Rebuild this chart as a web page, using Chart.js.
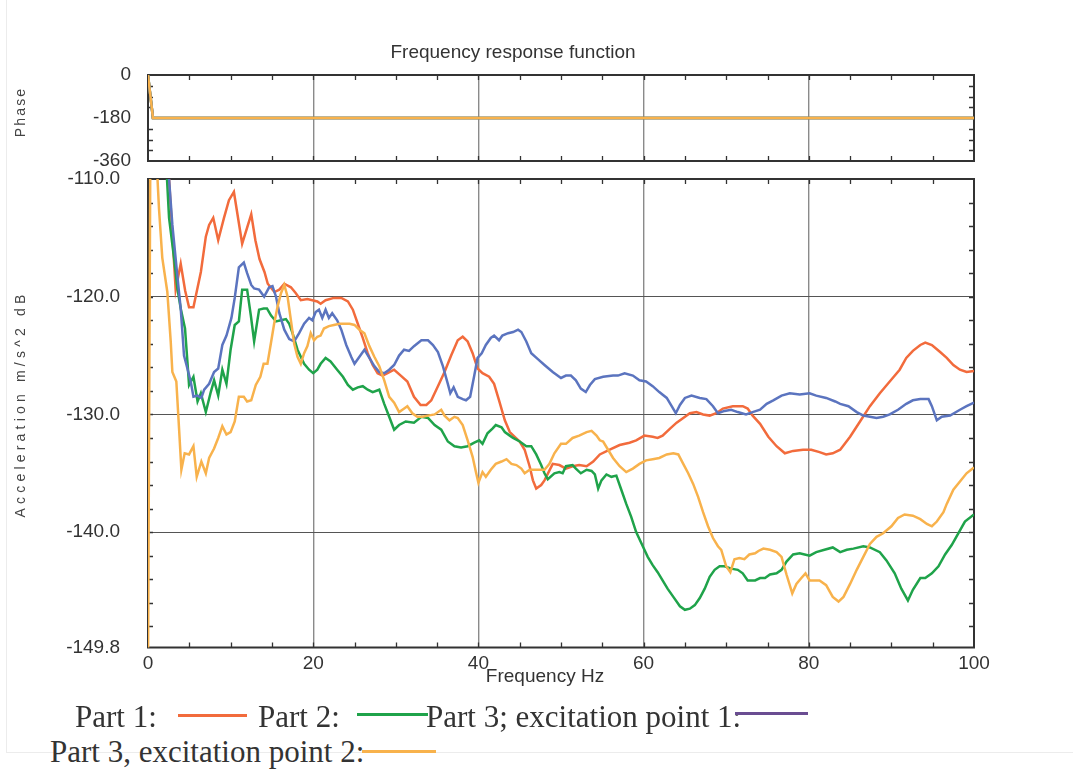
<!DOCTYPE html>
<html>
<head>
<meta charset="utf-8">
<script src="https://cdn.jsdelivr.net/npm/chart.js@4.4.1/dist/chart.umd.min.js"></script>
<style>
  html, body { margin: 0; padding: 0; background: #fff; }
  #wrap { position: relative; width: 1073px; height: 769px; overflow: hidden;
          font-family: "Liberation Sans", Arial, sans-serif; color: #333; }
  #frame { position: absolute; left: 6px; top: -1px; width: 1067px; height: 753px;
           border-left: 1px solid #ececec; border-bottom: 1px solid #ececec; }
  canvas { position: absolute; left: 0; }
  #phase { top: 0; }
  #mag { top: 170px; }
  .title { position: absolute; font-size: 19px; line-height: 19px; white-space: nowrap;
           transform: translateX(-50%); color: #333; }
  .ylab { position: absolute; font-size: 14px; line-height: 14px; white-space: nowrap;
          transform: translate(-50%, -50%) rotate(-90deg); color: #444; }
  .leg { position: absolute; font-family: "Liberation Serif", "Times New Roman", serif;
         font-size: 31px; line-height: 31px; white-space: nowrap; color: #333; }
  .sw { position: absolute; height: 3px; }
</style>
</head>
<body>
<div id="wrap">
  <div id="frame"></div>
  <canvas id="phase" width="1073" height="175"></canvas>
  <canvas id="mag" width="1073" height="530"></canvas>
  <div class="title" style="left:513px; top:42px;">Frequency response function</div>
  <div class="title" style="left:545px; top:666px;">Frequency Hz</div>
  <div class="ylab" style="left:20px; top:112px; letter-spacing:2.2px;">Phase</div>
  <div class="ylab" style="left:20px; top:404px; letter-spacing:4.2px;">Acceleration m/s^2 dB</div>
  <div id="legend"></div>
</div>
<script>
// frequency (Hz), level (dB)
const part1 = [
  [1.5,-100],[2.55,-110],[3.35,-119.4],[3.96,-117.2],[4.5,-119.5],[4.97,-120.9],[5.5,-120.9],
  [6.4,-117.9],[7.0,-114.9],[7.4,-113.9],[7.9,-113.3],[8.5,-115.2],[9.2,-113.3],[9.8,-111.8],
  [10.4,-111.1],[11.4,-115.5],[12.5,-113.0],[13.0,-115.2],[13.5,-116.8],[14.1,-117.9],[14.5,-118.9],
  [15.3,-119.6],[15.9,-119.4],[16.5,-118.9],[17.3,-119.2],[17.9,-119.7],[18.5,-120.3],[19.3,-120.2],
  [19.9,-120.3],[20.5,-120.4],[20.9,-120.6],[21.5,-120.3],[22.5,-120.1],[23.4,-120.1],[24.2,-120.4],
  [24.8,-121.1],[25.4,-122.3],[26.0,-123.5],[26.6,-124.8],[27.2,-125.8],[27.8,-126.5],[28.4,-126.7],
  [29.0,-126.5],[29.8,-126.2],[30.6,-126.7],[31.4,-127.2],[32.2,-128.5],[33.0,-129.2],[33.7,-129.2],
  [34.3,-128.8],[35.1,-127.6],[35.9,-126.4],[36.7,-125.0],[37.5,-123.7],[38.1,-123.4],[38.7,-123.8],
  [39.3,-124.8],[39.9,-126.1],[40.5,-126.5],[41.3,-126.8],[41.9,-127.4],[42.5,-128.8],[43.2,-130.5],
  [43.8,-131.5],[44.4,-131.9],[45.0,-132.3],[45.6,-133.0],[46.2,-134.4],[46.6,-135.6],[47.0,-136.3],
  [47.6,-136.0],[48.0,-135.6],[49.0,-134.2],[49.8,-134.3],[50.6,-134.6],[51.4,-134.4],[52.2,-134.3],
  [53.1,-134.4],[53.9,-134.0],[54.7,-133.4],[55.9,-133.0],[57.1,-132.6],[58.3,-132.4],[59.1,-132.2],
  [60.1,-131.8],[61.1,-131.9],[61.7,-132.0],[62.3,-131.8],[63.2,-131.2],[64.0,-130.7],[64.8,-130.3],
  [65.6,-129.9],[66.4,-129.8],[67.2,-130.0],[68.0,-130.1],[68.8,-129.9],[69.6,-129.5],[70.8,-129.3],
  [72.0,-129.3],[72.6,-129.5],[73.2,-130.1],[74.1,-130.8],[75.1,-131.9],[76.1,-132.7],[77.1,-133.3],
  [78.1,-133.1],[79.3,-133.0],[80.3,-133.0],[81.3,-133.2],[82.1,-133.4],[82.9,-133.3],[83.8,-133.0],
  [85.0,-131.9],[86.2,-130.6],[87.4,-129.3],[88.6,-128.2],[89.8,-127.2],[91.0,-126.2],[91.8,-125.2],
  [92.6,-124.6],[93.5,-124.1],[94.1,-123.9],[94.9,-124.1],[95.9,-124.7],[96.7,-125.2],[97.5,-125.8],
  [98.3,-126.2],[99.1,-126.4],[100,-126.3]
];

const part2 = [
  [1.5,-100],[2.3,-110],[2.55,-113.3],[3.15,-116.7],[3.56,-119.3],[3.96,-121.0],[4.48,-122.7],
  [4.77,-125.5],[4.97,-127.5],[5.5,-126.8],[6.0,-128.9],[6.4,-128.2],[7.0,-129.8],[7.6,-128.1],
  [8.0,-127.1],[8.5,-128.4],[9.0,-126.2],[9.5,-127.4],[10.0,-124.5],[10.5,-122.4],[11.0,-122.1],
  [11.4,-119.4],[12.0,-119.4],[12.45,-121.6],[12.85,-123.8],[13.45,-121.1],[14.0,-121.0],[14.4,-121.0],
  [14.9,-121.6],[15.5,-122.1],[16.1,-122.0],[16.7,-121.9],[17.1,-122.3],[17.5,-123.1],[18.1,-124.5],
  [18.9,-125.7],[19.5,-126.2],[20.0,-126.5],[20.5,-126.2],[20.9,-125.7],[21.5,-125.2],[22.1,-125.5],
  [22.9,-126.2],[23.6,-126.8],[24.2,-127.5],[24.8,-127.9],[25.4,-127.7],[26.0,-127.6],[26.6,-127.9],
  [27.2,-128.1],[28.0,-127.9],[28.6,-129.1],[29.2,-130.2],[29.8,-131.3],[30.4,-130.9],[31.2,-130.6],
  [32.2,-130.7],[33.1,-130.2],[33.9,-130.3],[34.7,-130.9],[35.5,-131.3],[36.3,-132.3],[37.1,-132.7],
  [37.9,-132.8],[38.7,-132.7],[39.5,-132.4],[40.1,-132.2],[40.5,-132.5],[41.1,-131.6],[41.7,-131.2],
  [42.1,-130.9],[42.8,-131.1],[43.2,-131.5],[43.8,-131.8],[44.2,-132.0],[45.0,-132.3],[45.8,-132.7],
  [46.4,-132.7],[47.0,-133.4],[47.6,-134.3],[48.0,-135.0],[48.4,-135.5],[49.2,-135.0],[49.8,-134.9],
  [50.2,-135.0],[50.6,-134.4],[51.4,-134.3],[51.8,-134.6],[52.4,-135.0],[53.1,-134.7],[53.7,-134.8],
  [54.1,-135.1],[54.5,-136.3],[54.9,-135.6],[55.5,-135.1],[56.1,-135.3],[56.7,-135.2],[57.3,-136.4],
  [57.9,-137.6],[58.5,-138.7],[59.1,-140.0],[59.9,-141.2],[60.5,-142.1],[61.1,-142.8],[61.7,-143.4],
  [62.3,-144.1],[62.9,-144.8],[63.6,-145.5],[64.4,-146.3],[65.0,-146.6],[65.6,-146.5],[66.2,-146.2],
  [66.8,-145.6],[67.4,-144.8],[68.0,-143.8],[68.6,-143.2],[69.2,-142.9],[69.8,-142.9],[70.6,-143.1],
  [71.4,-143.2],[72.0,-143.5],[72.6,-144.1],[73.5,-144.1],[74.1,-143.9],[74.7,-143.9],[75.3,-143.6],
  [76.1,-143.5],[76.7,-143.2],[77.3,-142.5],[78.1,-141.9],[78.9,-141.8],[79.5,-141.9],[80.1,-142.0],
  [80.9,-141.7],[81.9,-141.5],[82.9,-141.3],[83.8,-141.7],[84.6,-141.5],[85.4,-141.4],[86.6,-141.2],
  [87.4,-141.3],[88.6,-141.7],[89.4,-142.4],[90.4,-143.5],[91.2,-144.8],[92.0,-145.8],[92.6,-144.9],
  [93.5,-143.9],[94.1,-143.9],[94.9,-143.5],[95.7,-142.9],[96.5,-141.9],[97.3,-141.1],[98.1,-140.1],
  [98.9,-139.1],[100,-138.5]
];

const part3a = [
  [1.5,-100],[2.55,-110],[2.95,-113.9],[3.55,-118.2],[3.96,-121.0],[4.36,-125.0],[4.77,-126.1],
  [5.17,-127.2],[5.5,-128.5],[6.0,-128.4],[6.46,-128.6],[6.8,-127.9],[7.4,-127.4],[8.0,-126.4],
  [8.5,-126.1],[9.0,-124.1],[9.5,-123.3],[10.1,-121.8],[10.5,-120.1],[11.0,-117.5],[11.6,-117.1],
  [12.0,-118.0],[12.5,-119.0],[12.85,-119.3],[13.45,-119.4],[14.06,-120.0],[14.67,-119.2],[15.07,-119.1],
  [15.5,-120.0],[15.9,-121.4],[16.5,-122.8],[17.1,-123.6],[17.7,-123.8],[18.3,-123.1],[18.9,-122.3],
  [19.5,-121.8],[19.9,-122.0],[20.3,-121.3],[20.7,-121.1],[21.1,-121.8],[21.5,-121.1],[21.9,-121.8],
  [22.3,-121.4],[22.9,-122.0],[23.4,-122.8],[24.0,-124.1],[24.6,-125.1],[25.0,-125.7],[25.6,-125.1],
  [26.2,-124.5],[26.8,-125.2],[27.4,-125.9],[28.0,-126.4],[28.6,-126.5],[29.2,-126.2],[29.8,-125.8],
  [30.4,-125.0],[31.0,-124.5],[31.6,-124.6],[32.2,-124.2],[33.1,-123.7],[33.9,-123.7],[34.5,-124.1],
  [35.1,-124.7],[35.7,-125.9],[36.3,-127.4],[36.6,-128.2],[37.0,-127.7],[37.5,-128.5],[38.1,-128.7],
  [38.5,-128.8],[39.0,-128.5],[39.5,-126.7],[39.9,-125.2],[40.4,-124.8],[40.9,-124.1],[41.5,-123.5],
  [41.9,-123.3],[42.5,-123.7],[42.9,-123.3],[43.6,-123.1],[44.2,-123.0],[44.8,-122.8],[45.2,-123.0],
  [45.8,-123.8],[46.4,-124.8],[47.2,-125.3],[48.0,-125.8],[49.0,-126.4],[50.0,-126.9],[50.6,-126.7],
  [51.2,-126.7],[51.8,-127.1],[52.4,-127.8],[53.0,-128.1],[53.5,-127.5],[54.1,-127.0],[55.1,-126.8],
  [56.3,-126.7],[56.9,-126.7],[57.7,-126.5],[58.7,-126.7],[59.5,-127.1],[60.3,-127.2],[61.1,-127.6],
  [61.9,-128.1],[62.8,-128.6],[63.4,-129.3],[63.9,-129.9],[64.4,-129.2],[65.0,-128.6],[65.8,-128.4],
  [66.8,-128.6],[67.6,-128.7],[68.4,-129.3],[69.0,-129.9],[69.8,-129.7],[70.6,-129.6],[71.4,-129.8],
  [72.4,-130.0],[73.2,-129.8],[74.1,-129.6],[74.9,-129.1],[75.7,-128.8],[76.7,-128.4],[77.7,-128.2],
  [78.9,-128.3],[80.1,-128.2],[80.9,-128.4],[82.1,-128.6],[83.2,-128.9],[83.8,-129.1],[84.8,-129.3],
  [85.8,-129.8],[86.6,-130.1],[87.4,-130.2],[88.2,-130.3],[89.0,-130.2],[89.8,-130.0],[90.8,-129.6],
  [91.8,-129.1],[92.6,-128.8],[93.5,-128.7],[94.5,-128.7],[94.9,-129.3],[95.5,-130.5],[96.1,-130.2],
  [97.1,-130.1],[98.3,-129.6],[99.1,-129.3],[100,-129.0]
];

const part3b = [
  [0,-152],[0.3,-105],[0.7,-100],[1.13,-109.7],[1.33,-112.5],[1.73,-116.7],[2.34,-119.6],[2.75,-123.8],
  [2.95,-126.4],[3.43,-127.2],[3.76,-131.2],[4.04,-134.7],[4.44,-133.3],[4.97,-133.4],[5.5,-132.7],
  [5.9,-135.3],[6.46,-134.0],[7.0,-135.0],[7.4,-133.7],[8.0,-132.9],[8.5,-132.0],[9.0,-131.0],
  [9.5,-131.7],[10.0,-131.5],[10.5,-130.6],[11.0,-128.5],[11.6,-128.5],[12.0,-128.9],[12.5,-128.8],
  [13.05,-127.5],[13.6,-126.8],[14.0,-125.7],[14.46,-125.7],[14.87,-124.0],[15.27,-122.3],[15.7,-120.8],
  [16.1,-119.7],[16.5,-119.0],[16.9,-120.0],[17.3,-122.0],[17.7,-124.0],[18.1,-125.1],[18.5,-125.7],
  [18.9,-124.8],[19.3,-124.2],[19.7,-123.1],[20.1,-123.7],[20.5,-123.4],[20.9,-123.3],[21.3,-122.7],
  [21.9,-122.5],[22.5,-122.4],[23.2,-122.3],[23.8,-122.3],[24.4,-122.3],[25.0,-122.4],[25.6,-122.8],
  [26.2,-123.1],[26.8,-124.2],[27.4,-125.1],[28.0,-125.9],[28.6,-127.1],[29.2,-128.5],[29.8,-129.0],
  [30.4,-129.8],[30.8,-129.6],[31.4,-129.3],[32.0,-129.9],[32.6,-130.2],[33.2,-130.2],[33.9,-130.1],
  [34.7,-130.0],[35.5,-129.6],[35.9,-130.1],[36.5,-130.5],[37.1,-130.2],[37.5,-130.3],[38.1,-130.9],
  [38.7,-132.2],[39.3,-133.6],[39.7,-134.9],[40.0,-135.8],[40.5,-134.9],[40.9,-135.3],[41.5,-134.7],
  [42.1,-134.2],[42.8,-134.0],[43.4,-133.8],[44.0,-134.2],[44.6,-134.3],[45.2,-134.6],[45.6,-135.0],
  [46.2,-134.7],[47.0,-134.7],[48.0,-134.7],[48.6,-134.2],[49.2,-133.3],[50.0,-132.5],[50.6,-132.5],
  [51.4,-132.0],[52.2,-131.8],[53.1,-131.5],[53.7,-131.4],[54.3,-131.8],[54.7,-132.2],[55.1,-132.3],
  [55.7,-133.0],[56.3,-133.7],[57.1,-134.4],[57.9,-134.9],[58.7,-134.6],[59.5,-134.2],[60.3,-133.9],
  [61.1,-133.8],[61.9,-133.7],[62.8,-133.4],[63.6,-133.3],[64.2,-133.4],[64.8,-134.2],[65.4,-135.0],
  [66.0,-135.9],[66.6,-137.0],[67.2,-138.3],[67.8,-139.5],[68.4,-140.5],[69.0,-141.2],[69.4,-141.5],
  [70.0,-142.9],[70.5,-143.4],[71.0,-142.3],[71.6,-142.2],[72.2,-142.3],[72.8,-141.9],[73.5,-141.8],
  [73.9,-141.6],[74.5,-141.4],[75.3,-141.5],[76.1,-141.7],[76.7,-142.1],[77.3,-143.6],[78.0,-145.2],
  [78.5,-144.4],[79.1,-143.9],[79.6,-143.5],[80.1,-144.1],[80.7,-144.1],[81.3,-144.1],[82.1,-144.5],
  [82.9,-145.5],[83.6,-145.9],[84.2,-145.5],[85.0,-144.4],[85.8,-143.2],[86.6,-142.1],[87.4,-141.0],
  [88.2,-140.4],[89.0,-140.1],[90.0,-139.5],[90.8,-138.8],[91.6,-138.5],[92.6,-138.6],[93.5,-138.9],
  [94.3,-139.3],[94.9,-139.5],[95.5,-139.1],[96.3,-138.3],[96.7,-137.6],[97.5,-136.4],[98.3,-135.7],
  [99.1,-135.0],[100,-134.5]
];

// phase is the same for every measurement: 0 deg at DC, -180 deg above
const phaseFreq = [0, 0.6, 100];
const phaseDeg = [0, -180, -180];

const seriesLabels = ["Part 1:", "Part 2:", "Part 3; excitation point 1:", "Part 3, excitation point 2:"];
const seriesColors = ["#f26b3c", "#1fa34a", "#5b74bf", "#f8b24c"];
const legendColors = ["#f26b3c", "#1fa34a", "#6a4d92", "#f8b24c"];
const magSeries = [part1, part2, part3a, part3b];

const freqTicks = [0, 20, 40, 60, 80, 100];
const magTicks = [-149.8, -140, -130, -120, -110];
const phaseTicks = [-360, -180, 0];

const fontTicks = { family: '"Liberation Sans", Arial, sans-serif', size: 19 };

// inward tick marks on all four edges plus the plot frame
const frameTicks = {
  id: 'frameTicks',
  beforeDatasetsDraw(chart, args, opts) {
    const { ctx, chartArea: a, scales: { x, y } } = chart;
    ctx.save();
    ctx.strokeStyle = '#333';
    ctx.lineWidth = 1.3;
    ctx.beginPath();
    opts.x.forEach(v => {
      const px = Math.round(x.getPixelForValue(v)) + 0.5;
      ctx.moveTo(px, a.top); ctx.lineTo(px, a.top + 5);
      ctx.moveTo(px, a.bottom); ctx.lineTo(px, a.bottom - 5);
    });
    opts.y.forEach(v => {
      const py = Math.round(y.getPixelForValue(v)) + 0.5;
      ctx.moveTo(a.left, py); ctx.lineTo(a.left + 5, py);
      ctx.moveTo(a.right, py); ctx.lineTo(a.right - 5, py);
    });
    ctx.stroke();
    ctx.lineWidth = 2;
    ctx.strokeRect(a.left, a.top, a.width, a.height);
    ctx.restore();
  }
};

const minorFreq = [];
for (let f = 5; f < 100; f += 5) minorFreq.push(f);
const minorMag = [];
for (let d = -148; d <= -112; d += 2) minorMag.push(d);
const minorPhase = [-315, -270, -225, -135, -90, -45];

function xScale(showLabels) {
  return {
    type: 'linear', min: 0, max: 100,
    afterBuildTicks: s => { s.ticks = freqTicks.map(v => ({ value: v })); },
    afterFit: s => {
      s.height = showLabels ? 52.5 : 0;
      s.paddingLeft = 0; s.paddingRight = 0;
    },
    border: { display: false },
    grid: {
      drawTicks: false,
      color: c => (c.tick && c.tick.value > 0 && c.tick.value < 100) ? '#8a8a8a' : 'rgba(0,0,0,0)',
      lineWidth: 1.4
    },
    ticks: { display: showLabels, autoSkip: false, maxRotation: 0, padding: 5, color: '#333', font: fontTicks }
  };
}

function yFit(s) {
  s.width = 148;
  s.paddingTop = 0; s.paddingBottom = 0;
}

function datasets(seriesList, order) {
  return seriesList.map((pts, i) => ({
    label: seriesLabels[i],
    data: pts.map(p => ({ x: p[0], y: p[1] })),
    borderColor: seriesColors[i],
    borderWidth: 2.5,
    pointRadius: 0,
    tension: 0,
    fill: false,
    order: order[i]
  }));
}

const phasePts = phaseFreq.map((f, i) => [f, phaseDeg[i]]);

new Chart(document.getElementById('phase'), {
  type: 'line',
  data: { datasets: datasets([phasePts, phasePts, phasePts, phasePts], [4, 3, 2, 1]) },
  options: {
    responsive: false, animation: false, events: [],
    layout: { padding: { top: 75, right: 99, bottom: 14, left: 0 } },
    scales: {
      x: xScale(false),
      y: {
        min: -360, max: 0,
        afterBuildTicks: s => { s.ticks = phaseTicks.map(v => ({ value: v })); },
        afterFit: yFit,
        border: { display: false },
        grid: { drawTicks: false, color: 'rgba(0,0,0,0)' },
        ticks: { autoSkip: false, padding: 17, color: '#333', font: fontTicks, callback: v => String(v) }
      }
    },
    plugins: {
      legend: { display: false }, tooltip: { enabled: false }, title: { display: false },
      frameTicks: { x: minorFreq, y: minorPhase }
    }
  },
  plugins: [frameTicks]
});

new Chart(document.getElementById('mag'), {
  type: 'line',
  data: { datasets: datasets(magSeries, [4, 3, 2, 1]) },
  options: {
    responsive: false, animation: false, events: [],
    layout: { padding: { top: 9, right: 99, bottom: 0, left: 0 } },
    scales: {
      x: xScale(true),
      y: {
        min: -149.8, max: -110,
        afterBuildTicks: s => { s.ticks = magTicks.map(v => ({ value: v })); },
        afterFit: yFit,
        border: { display: false },
        grid: {
          drawTicks: false,
          color: c => (c.tick && c.tick.value > -149 && c.tick.value < -111) ? '#555' : 'rgba(0,0,0,0)',
          lineWidth: 1
        },
        ticks: { autoSkip: false, padding: 28, color: '#333', font: fontTicks, callback: v => v.toFixed(1) }
      }
    },
    plugins: {
      legend: { display: false }, tooltip: { enabled: false }, title: { display: false },
      frameTicks: { x: minorFreq, y: minorMag }
    }
  },
  plugins: [frameTicks]
});

// legend: label text followed by a short line sample
const legendSlots = [
  { text: [75, 701], line: [178, 247, 714] },
  { text: [258, 701], line: [357, 428, 713] },
  { text: [426, 701], line: [735, 808, 712] },
  { text: [50, 736], line: [362, 436, 750] }
];
const legendBox = document.getElementById('legend');
legendSlots.forEach((slot, i) => {
  const t = document.createElement('div');
  t.className = 'leg';
  t.style.left = slot.text[0] + 'px';
  t.style.top = slot.text[1] + 'px';
  t.textContent = seriesLabels[i];
  legendBox.appendChild(t);
  const s = document.createElement('div');
  s.className = 'sw';
  s.style.left = slot.line[0] + 'px';
  s.style.width = (slot.line[1] - slot.line[0]) + 'px';
  s.style.top = slot.line[2] + 'px';
  s.style.background = legendColors[i];
  legendBox.appendChild(s);
});
</script>
</body>
</html>
